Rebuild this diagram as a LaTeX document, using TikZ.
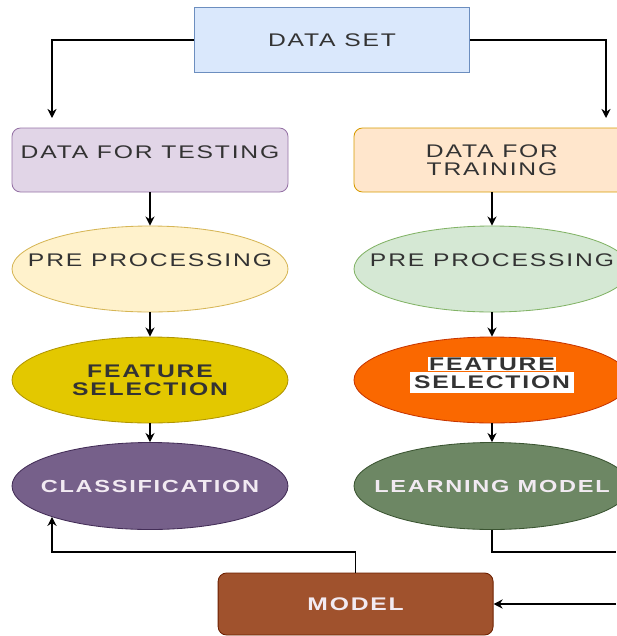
\documentclass[tikz,border=0pt]{standalone}
\usepackage{fontspec}
\setmainfont{Liberation Sans}[FakeStretch=1.35,LetterSpace=10]
\usepackage{xcolor}
\usepackage{tikz}
\usetikzlibrary{shapes.geometric}
\usetikzlibrary{positioning, arrows.meta}
\definecolor{dsfill}{HTML}{DAE8FC}\definecolor{dsdraw}{HTML}{6C8EBF}
\definecolor{tsfill}{HTML}{E1D5E7}\definecolor{tsdraw}{HTML}{9673A6}
\definecolor{trfill}{HTML}{FFE6CC}\definecolor{trdraw}{HTML}{D79B00}
\definecolor{ppafill}{HTML}{FFF2CC}\definecolor{ppadraw}{HTML}{D6B656}
\definecolor{ppbfill}{HTML}{D5E8D4}\definecolor{ppbdraw}{HTML}{82B366}
\definecolor{fsafill}{HTML}{E3C800}\definecolor{fsadraw}{HTML}{B09500}
\definecolor{fsbfill}{HTML}{FA6800}\definecolor{fsbdraw}{HTML}{C73500}
\definecolor{clfill}{HTML}{76608A}\definecolor{cldraw}{HTML}{432D57}
\definecolor{lmfill}{HTML}{6D8764}\definecolor{lmdraw}{HTML}{3A5431}
\definecolor{mdfill}{HTML}{A0522D}\definecolor{mddraw}{HTML}{6D1F00}
\definecolor{txtgray}{HTML}{333333}
\definecolor{txtlight}{HTML}{F2EAF2}
\newcommand{\lbl}{\fontsize{13}{13}\selectfont}
\newcommand{\slbl}{\fontsize{12.4}{13}\selectfont\bfseries}

\begin{document}
\begin{tikzpicture}[
		blk/.style 2 args={
			rectangle,
			draw=#2,
			fill=#1,
			line width=0.6pt,
			minimum width=6.9cm,
			minimum height=1.6cm,
			align=center,
			text=txtgray,
			font=\lbl},
		oval/.style 2 args={
			ellipse,
			draw=#2,
			fill=#1,
			line width=0.6pt,
			inner xsep=-0.8cm,
			inner ysep=-0.2cm,
			minimum width=6.9cm,
			minimum height=2.15cm,
			align=center,
			text=txtgray,
			font=\lbl},
		lift/.style={text depth=#1},
		arr/.style={->, line width=0.9pt},
		>={Stealth[length=6.5pt,width=6.5pt]}
		]
		\useasboundingbox (0,0) rectangle (15.4,-15.9);
		\node[blk={dsfill}{dsdraw}, minimum width=6.875cm, minimum height=1.625cm] (ds) at (8.3, -1.0) {DATA SET};
		\node[blk={tsfill}{tsdraw}, rounded corners=6pt, lift=11pt] (test) at (3.75, -4.0) {DATA FOR TESTING};
		\node[blk={trfill}{trdraw}, rounded corners=6pt] (train) at (12.3, -4.0) {DATA FOR\\TRAINING};
		\node[oval={ppafill}{ppadraw}, lift=13pt] (prea) at (3.75, -6.725) {PRE PROCESSING};
		\node[oval={ppbfill}{ppbdraw}, lift=13pt] (preb) at (12.3, -6.725) {PRE PROCESSING};
		\node[oval={fsafill}{fsadraw}, font=\lbl\bfseries] (fsa) at (3.75, -9.5) {FEATURE\\SELECTION};
		\node[oval={fsbfill}{fsbdraw}, font=\lbl\bfseries, lift=10pt, text=txtgray] (fsb) at (12.3, -9.5)
			{\setlength{\fboxsep}{0.5pt}\colorbox{white}{FEATURE}\\\colorbox{white}{SELECTION}};
		\node[oval={clfill}{cldraw}, minimum height=2.175cm, font=\slbl, text=txtlight] (cls) at (3.75, -12.15) {CLASSIFICATION};
		\node[oval={lmfill}{lmdraw}, minimum height=2.175cm, font=\slbl, text=txtlight] (lrn) at (12.3, -12.15) {LEARNING MODEL};
		\node[blk={mdfill}{mddraw}, rounded corners=6pt, minimum width=6.875cm, minimum height=1.55cm, font=\lbl\bfseries, text=txtlight] (mdl) at (8.89, -15.1) {MODEL};
		\coordinate (tl) at (1.3, -2.95);
		\coordinate (tr) at (15.15, -2.95);
		\coordinate (bl) at (1.3, -13.8);
		\coordinate (cl) at (1.3, -12.92);
		\coordinate (br) at (15.4, -13.8);
		\coordinate (mr) at (15.4, -15.1);
		\draw[arr] (ds.west) -| (tl);
		\draw[arr] (ds.east) -| (tr);
		\draw[arr] (test.south) to (prea.north);
		\draw[arr] (train.south) to (preb.north);
		\draw[arr] (prea.south) to (fsa.north);
		\draw[arr] (preb.south) to (fsb.north);
		\draw[arr] (fsa.south) to (cls.north);
		\draw[arr] (fsb.south) to (lrn.north);
		\draw[arr] (mdl.north) |- (bl) -- (cl);
		\draw[line width=0.9pt] (lrn.south) |- (br);
		\draw[arr] (mr) to (mdl.east);
\end{tikzpicture}
\end{document}
